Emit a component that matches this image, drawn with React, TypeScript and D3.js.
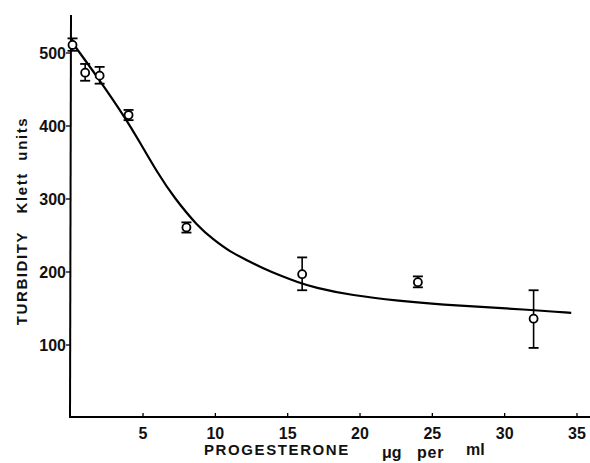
import React from "react";
import * as d3 from "d3";

const doseX = [0.125, 1, 2, 4, 8, 16, 24, 32];
const turbidity = [511, 473, 469, 415, 261, 197, 186, 136];
const errLow = [503, 462, 458, 408, 254, 175, 179, 96];
const errHigh = [520, 485, 481, 422, 268, 220, 194, 175];

const curveX = [0.12, 2.0, 3.75, 4.8, 6.0, 7.1, 8.8, 9.9, 11.0, 12.2, 13.3, 14.5, 15.7, 16.8, 19.4, 22.9, 25, 32, 34.6];
const curveY = [514, 463, 412, 377, 336, 303, 262, 244, 228, 216, 205, 195, 186, 179, 168, 160, 156, 148, 144];

const xTicks = [5, 10, 15, 20, 25, 30, 35];
const yTicks = [100, 200, 300, 400, 500];

const W = 590;
const H = 463;

export default function App() {
  const x = d3.scaleLinear().domain([0, 35]).range([70.7, 577]);
  const y = d3.scaleLinear().domain([0, 500]).range([418, 53]);

  const line = d3
    .line<number>()
    .x((_, i) => x(curveX[i]))
    .y((d) => y(d))
    .curve(d3.curveBasis);

  const font = "'Liberation Sans', Arial, sans-serif";
  const axisY = 417;

  return (
    <svg
      width={W}
      height={H}
      style={{ position: "absolute", left: 0, top: 0, background: "#fff" }}
      fontFamily={font}
    >
      {/* axes */}
      <line x1={71} y1={15} x2={70} y2={axisY} stroke="#000" strokeWidth={2} />
      <line x1={69} y1={axisY} x2={590} y2={axisY} stroke="#000" strokeWidth={2} />
      {yTicks.map((t) => (
        <g key={t}>
          <line x1={66} x2={71} y1={y(t)} y2={y(t)} stroke="#000" strokeWidth={1.3} />
          <text
            x={66}
            y={y(t)}
            textAnchor="end"
            dominantBaseline="central"
            fontSize={16}
            fontWeight="bold"
            fill="#111"
          >
            {t}
          </text>
        </g>
      ))}
      {xTicks.map((t) => (
        <g key={t}>
          <line x1={x(t)} x2={x(t)} y1={axisY} y2={axisY - 4} stroke="#000" strokeWidth={1.3} />
          <text
            x={x(t)}
            y={433}
            textAnchor="middle"
            dominantBaseline="central"
            fontSize={16}
            fontWeight="bold"
            fill="#111"
          >
            {t}
          </text>
        </g>
      ))}
      {/* axis titles */}
      <text
        transform={`translate(21,221) rotate(-90)`}
        textAnchor="middle"
        dominantBaseline="central"
        fontSize={15}
        fontWeight="bold"
        letterSpacing={1.6}
        fill="#111"
      >
        TURBIDITY{"\u00a0\u00a0\u00a0"}Klett{"\u00a0\u00a0"}units
      </text>
      <text x={204} y={449} dominantBaseline="central" fontSize={15} fontWeight="bold" fill="#111" letterSpacing={1.6}>
        PROGESTERONE
      </text>
      <text x={382} y={452} dominantBaseline="central" fontSize={16} fontWeight="bold" fill="#111">
        μg
      </text>
      <text x={417} y={452} dominantBaseline="central" fontSize={16} fontWeight="bold" fill="#111" letterSpacing={0.8}>
        per
      </text>
      <text x={466} y={449} dominantBaseline="central" fontSize={16} fontWeight="bold" fill="#111">
        ml
      </text>

      {/* fitted curve */}
      <path d={line(curveY) || ""} fill="none" stroke="#000" strokeWidth={2.2} />

      {/* data points with error bars */}
      {doseX.map((dx, i) => {
        const cx = x(dx);
        return (
          <g key={i}>
            <line x1={cx} x2={cx} y1={y(errLow[i])} y2={y(errHigh[i])} stroke="#000" strokeWidth={1.6} />
            <line x1={cx - 5} x2={cx + 5} y1={y(errLow[i])} y2={y(errLow[i])} stroke="#000" strokeWidth={1.8} />
            <line x1={cx - 5} x2={cx + 5} y1={y(errHigh[i])} y2={y(errHigh[i])} stroke="#000" strokeWidth={1.8} />
            <circle cx={cx} cy={y(turbidity[i])} r={4} fill="#fff" stroke="#000" strokeWidth={1.8} />
          </g>
        );
      })}
    </svg>
  );
}
